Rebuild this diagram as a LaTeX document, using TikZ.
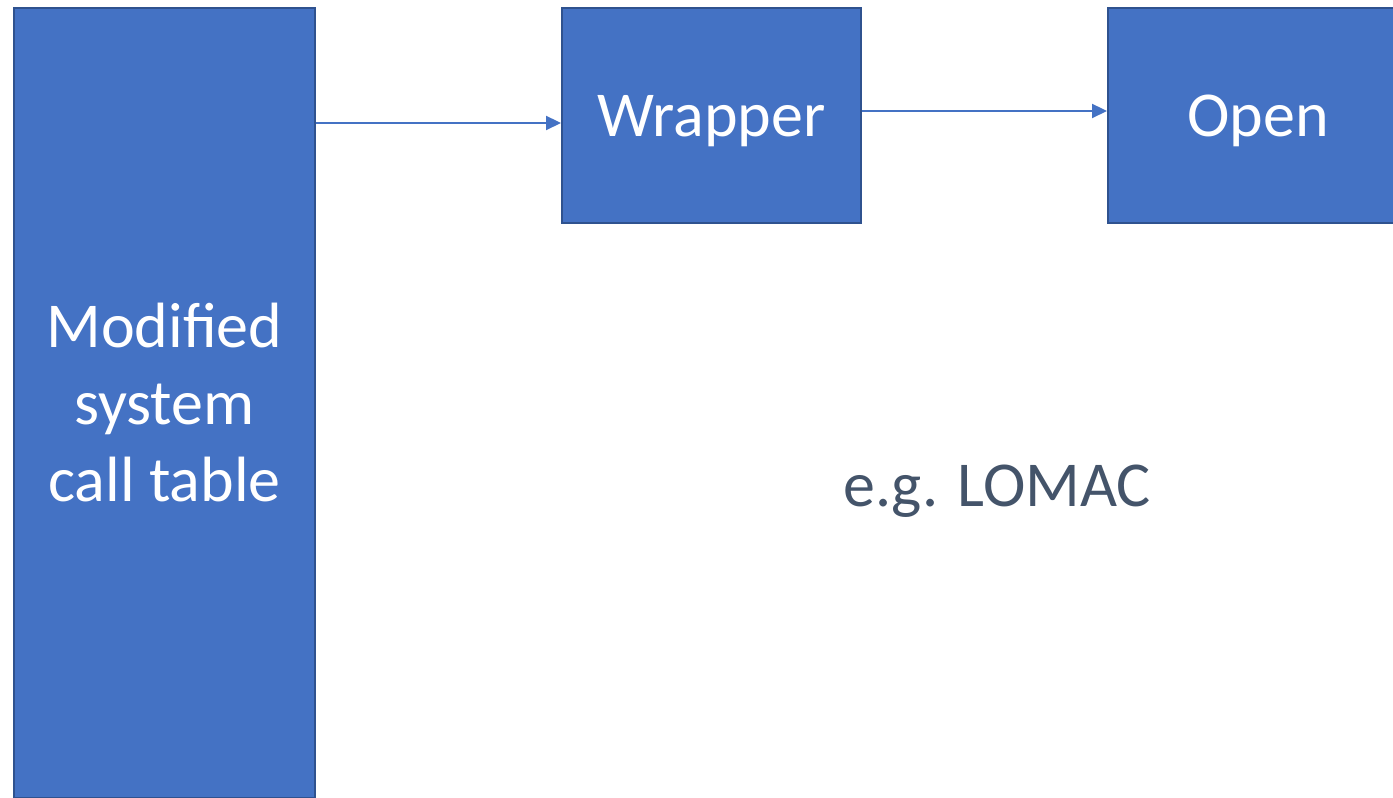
\documentclass[tikz,border=0pt]{standalone}
\usepackage{fontspec}
\setmainfont{Carlito}
\usetikzlibrary{arrows.meta}
\definecolor{boxblue}{HTML}{4472C4}
\definecolor{boxedge}{HTML}{2F528F}
\definecolor{notegray}{HTML}{44546A}
\tikzset{
  block/.style={draw=boxedge, line width=2pt, fill=boxblue, text=white, align=center,
    inner sep=0pt, font=\fontsize{64}{77}\selectfont},
  short block/.style={block, minimum height=215pt, text height=43pt, text depth=0pt},
}
\begin{document}
\begin{tikzpicture}[x=1pt, y=1pt, >={Triangle[length=15pt,width=14pt]}]
\useasboundingbox (0,0) rectangle (1393,798);
\node[block, minimum width=301pt, minimum height=790pt] (call) at (164.5,395) {Modified\\system\\call table};
\node[short block, minimum width=299pt] (wrap) at (711.5,682.5) {Wrapper};
\node[short block, minimum width=300pt] (open) at (1258,682.5) {Open};
\node[text=notegray, font=\fontsize{64}{77}\selectfont] (note) at (997,307) {e.g. LOMAC};
\draw[->, draw=boxblue, fill=boxblue, line width=2.2pt] ([yshift=-7.5pt]wrap.west -| call.east) -- ([yshift=-7.5pt]wrap.west);
\draw[->, draw=boxblue, fill=boxblue, line width=2.2pt] ([yshift=4.5pt]open.west -| wrap.east) -- ([yshift=4.5pt]open.west);
\end{tikzpicture}
\end{document}
